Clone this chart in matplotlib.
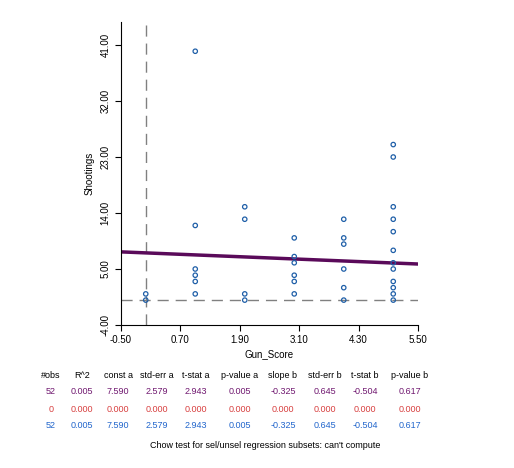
import numpy as np
import matplotlib.pyplot as plt

plt.rcParams['font.family'] = ['Liberation Sans', 'DejaVu Sans']

# data
gun_score = [0, 0,
             1, 1, 1, 1, 1, 1,
             2, 2, 2, 2,
             3, 3, 3, 3, 3, 3,
             4, 4, 4, 4, 4, 4,
             5, 5, 5, 5, 5, 5, 5, 5, 5, 5, 5, 5]
shootings = [0, 1,
             40, 12, 5, 4, 3, 1,
             15, 13, 1, 0,
             10, 7, 6, 4, 3, 1,
             13, 10, 9, 5, 2, 0,
             25, 23, 15, 13, 11, 8, 6, 5, 3, 2, 1, 0]
const_a = 7.590
slope_b = -0.325

xticks = [-0.5, 0.7, 1.9, 3.1, 4.3, 5.5]
yticks = [-4, 5, 14, 23, 32, 41]

header = ['#obs', 'R^2', 'const a', 'std-err a', 't-stat a', 'p-value a',
          'slope b', 'std-err b', 't-stat b', 'p-value b']
rows = [['52', '0.005', '7.590', '2.579', '2.943', '0.005', '-0.325', '0.645', '-0.504', '0.617'],
        ['0', '0.000', '0.000', '0.000', '0.000', '0.000', '0.000', '0.000', '0.000', '0.000'],
        ['52', '0.005', '7.590', '2.579', '2.943', '0.005', '-0.325', '0.645', '-0.504', '0.617']]
row_colors = ['#701870', '#d84040', '#2266cc']

fig = plt.figure(figsize=(5.14, 4.68), dpi=100)
ax = fig.add_axes([121/514, 1-325/468, 297/514, 303/468])
ax.axvline(0, color='#808080', lw=1, dashes=(8, 5))
ax.axhline(0, color='#808080', lw=1, dashes=(8, 5))
xs = np.array([-0.5, 5.5])
ax.plot(xs, const_a + slope_b*xs, color='#5a0a5a', lw=2.5)
ax.scatter(gun_score, shootings, s=10, facecolors='none', edgecolors='#1f5fa8', lw=0.9, zorder=3)
ax.set_xlim(-0.5, 5.5)
ax.set_ylim(-4, 44.7)
ax.set_xticks(xticks)
ax.set_xticklabels(['%.2f' % v for v in xticks], fontsize=7)
ax.set_yticks(yticks)
ax.set_yticklabels(['%.2f' % v for v in yticks], fontsize=7, rotation=90, va='center')
ax.spines['top'].set_visible(False)
ax.spines['right'].set_visible(False)
ax.tick_params(length=4)
ax.set_xlabel('Gun_Score', fontsize=7, labelpad=3)
ax.set_ylabel('Shootings', fontsize=7)

# regression stats table below the chart
colx = [51, 82, 118, 157, 196, 240, 283, 325, 365, 410]
for x, h in zip(colx, header):
    fig.text(x/514, 1-375/468, h, fontsize=6.5, ha='center', va='center')
for r, (row, c) in enumerate(zip(rows, row_colors)):
    for x, v in zip(colx, row):
        fig.text(x/514, 1-(392+r*17)/468, v, fontsize=6.5, ha='center', va='center', color=c)
fig.text(265/514, 1-446/468, "Chow test for sel/unsel regression subsets: can't compute",
         fontsize=6.5, ha='center', va='center')
fig.savefig('out.png', dpi=100)
